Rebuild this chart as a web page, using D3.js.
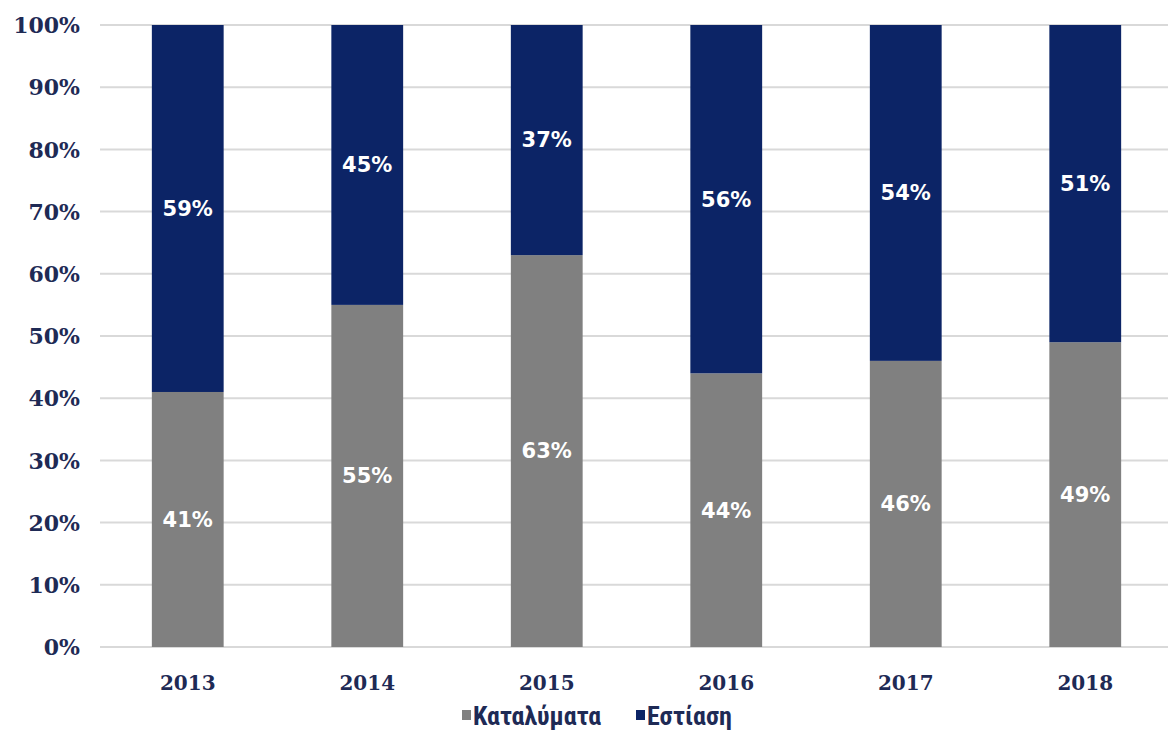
<!DOCTYPE html>
<html><head><meta charset="utf-8">
<script src="https://cdn.jsdelivr.net/npm/d3@7"></script>
<style>body{margin:0;background:#fff}</style></head>
<body><svg id="c" width="1168" height="736"></svg>
<script>
const years = ["2013","2014","2015","2016","2017","2018"];
const accommodation = [41,55,63,44,46,49];
const catering = [59,45,37,56,54,51];
const seriesNames = ["Καταλύματα","Εστίαση"];
const seriesColors = ["#808080","#0c2466"];
const yTicks = [0,10,20,30,40,50,60,70,80,90,100];

const svg = d3.select("#c");
const x = d3.scaleBand().domain(years).range([98,1175]).paddingInner(0.6).paddingOuter(0.3);
const y = d3.scaleLinear().domain([0,100]).range([647,25]);

// gridlines
svg.append("g").selectAll("line").data(yTicks).join("line")
  .attr("x1",100).attr("x2",1168).attr("y1",d=>y(d)).attr("y2",d=>y(d))
  .attr("stroke","#d9d9d9").attr("stroke-width",2);

// y axis labels
const yAxis = d3.axisLeft(y).tickValues(yTicks).tickFormat(d=>d+"%").tickSize(0).tickPadding(0);
const ya = svg.append("g").attr("transform","translate(80,0)").call(yAxis);
ya.select(".domain").remove();
ya.selectAll("text").attr("font-family","DejaVu Serif").attr("font-weight","bold")
  .attr("font-size",22).attr("fill","#1e2a55").attr("dy","0.35em");

const rows = years.map((yr,i)=>({year:yr, a:accommodation[i], c:catering[i]}));
const stack = d3.stack().keys(["a","c"])(rows);

const g = svg.append("g");
stack.forEach((s,k)=>{
  g.append("g").selectAll("rect").data(s).join("rect")
    .attr("x",d=>x(d.data.year)).attr("width",x.bandwidth())
    .attr("y",d=>y(d[1])).attr("height",d=>y(d[0])-y(d[1]))
    .attr("fill",seriesColors[k]);
  g.append("g").selectAll("text").data(s).join("text")
    .attr("x",d=>x(d.data.year)+x.bandwidth()/2)
    .attr("y",d=>(y(d[0])+y(d[1]))/2)
    .attr("text-anchor","middle").attr("dy","0.35em")
    .attr("font-family","DejaVu Sans").attr("font-weight","bold").attr("font-size",21)
    .attr("fill","#fff")
    .text(d=>(d[1]-d[0])+"%");
});

// x axis
const xAxis = d3.axisBottom(x).tickSize(0).tickPadding(0);
const xa = svg.append("g").attr("transform","translate(0,683)").call(xAxis);
xa.select(".domain").remove();
xa.selectAll("text").attr("font-family","DejaVu Serif").attr("font-weight","bold")
  .attr("font-size",20).attr("fill","#1e2a55").attr("dy","0.35em");

// legend
const legend = svg.append("g").attr("font-family","'Liberation Sans Narrow','Roboto Condensed','DejaVu Sans Condensed',sans-serif")
  .attr("font-weight","bold").attr("font-size",26).attr("fill","#1e2a55");
const lx = [462,636];
seriesNames.forEach((n,i)=>{
  legend.append("rect").attr("x",lx[i]).attr("y",710).attr("width",9).attr("height",10).attr("fill",seriesColors[i]);
  legend.append("text").attr("x",lx[i]+11).attr("y",716).attr("dy","0.35em").text(n);
});
</script></body></html>
